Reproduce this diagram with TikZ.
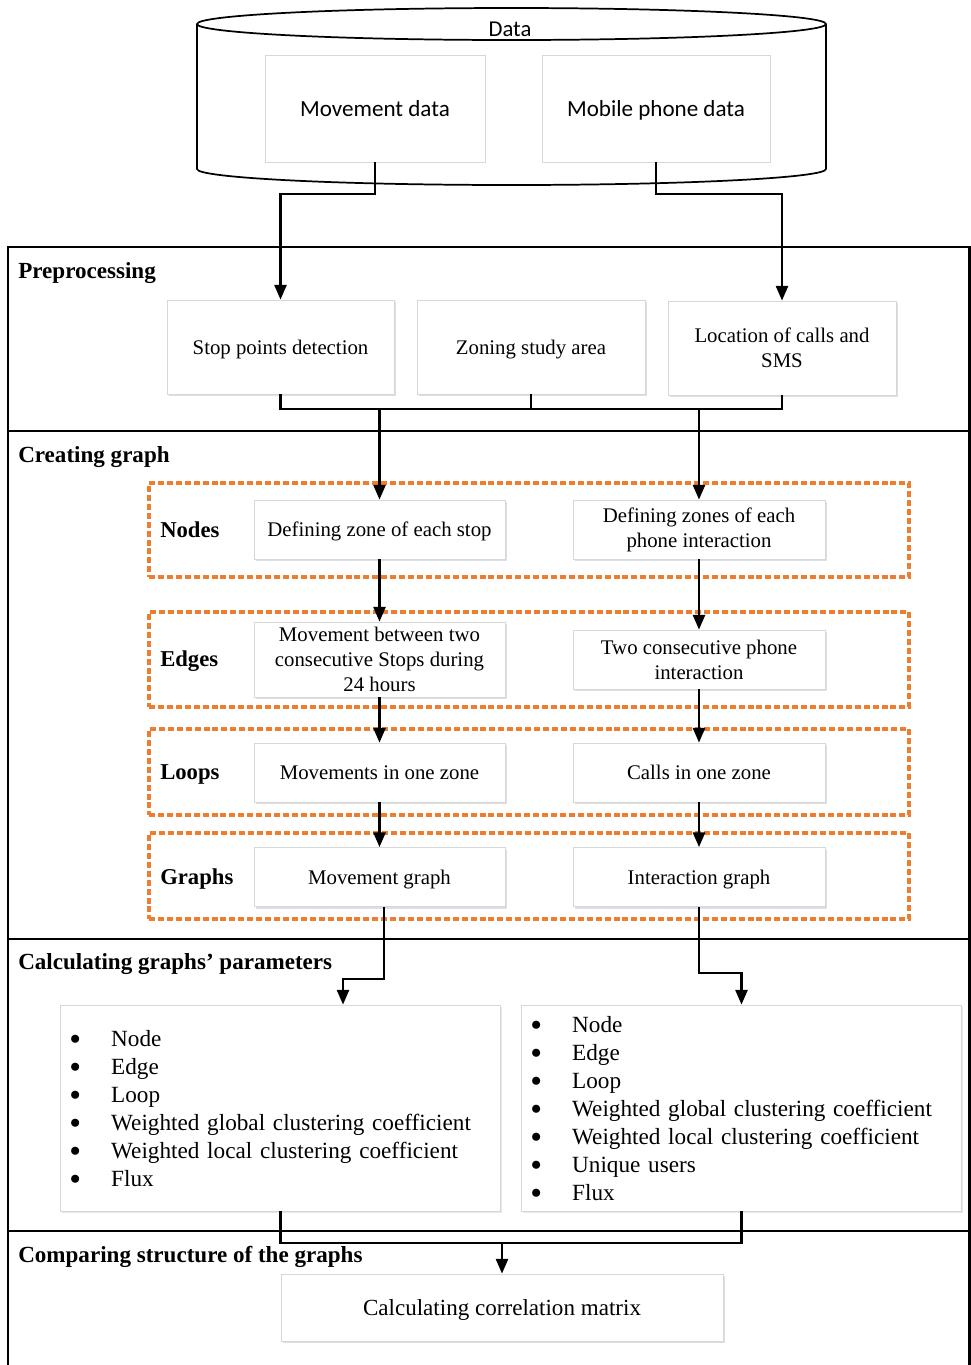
\documentclass[tikz,border=0pt]{standalone}
\usepackage{fontspec}
\usepackage{graphicx}
\setmainfont{Liberation Serif}
\newfontfamily\calfont{Carlito}
\usetikzlibrary{arrows.meta,shadows,calc}
\definecolor{boxgray}{RGB}{215,215,215}
\definecolor{dashorange}{RGB}{237,125,49}
\definecolor{shadowcol}{RGB}{205,210,225}
\newcommand\blt{\makebox[30pt][l]{\hspace{-1.2pt}\raisebox{1.3pt}{\fontsize{14}{10}\selectfont ●}}}
\newcommand\liftlist[1]{\raisebox{0pt}[\dimexpr\height+4.5pt\relax][\depth]{#1}}
\begin{document}
\begin{tikzpicture}[x=0.75pt,y=-0.75pt,
  box/.style={draw=boxgray, line width=0.6pt, fill=white, inner sep=2pt, align=center,
    font=\fontsize{15.6}{18.75}\selectfont,
    drop shadow={shadow xshift=1.2pt, shadow yshift=-1.5pt, fill=shadowcol, opacity=0.7}},
  sl/.style={text height=10.8pt, text depth=0pt},
  databox/.style={draw=boxgray, line width=0.6pt, fill=white, minimum width=165pt, minimum height=80.25pt,
    text height=11.5pt, text depth=0pt,
    font=\calfont\fontsize{17.3}{20}\selectfont},
  listbox/.style={draw=boxgray, line width=0.6pt, fill=white, inner xsep=8.25pt, inner ysep=0pt,
    text width=314pt, minimum height=154.5pt,
    font=\fontsize{17.4}{21}\selectfont,
    drop shadow={shadow xshift=1.2pt, shadow yshift=-1.5pt, fill=shadowcol, opacity=0.5}},
  sect/.style={anchor=west, inner sep=0pt, text height=11.8pt, text depth=0pt,
    font=\bfseries\fontsize{17.3}{20}\selectfont},
  lab/.style={anchor=west, inner sep=0pt, text height=11.6pt, text depth=0pt,
    font=\bfseries\fontsize{17}{20}\selectfont},
  dbox/.style={draw=dashorange, line width=2.6pt, dash pattern=on 4.5pt off 2.2pt, minimum width=570pt},
  conn/.style={line width=1.8pt},
  arr/.style={line width=1.8pt, -{Triangle[length=11pt,width=9pt]}},
  frame/.style={line width=1.8pt}
]
\useasboundingbox (0,0) rectangle (971,1365);

% ---- Data cylinder ----
\draw[line width=1.3pt] (197,24) -- (197,169) arc[start angle=180, end angle=0, x radius=314.5, y radius=16] -- (826,24);
\draw[line width=1.3pt] (511.5,24) ellipse [x radius=314.5, y radius=16];
\node[font=\calfont\fontsize{17}{20}\selectfont, inner sep=0pt] (data) at (510,29) {Data};
\node[databox] (mv) at (375,108.5) {Movement data};
\node[databox, minimum width=171pt] (mp) at (656,108.5) {Mobile phone data};

% ---- Section frames ----
\draw[frame] (8,1375) -- (8,247) -- (969.5,247) -- (969.5,1375);
\draw[frame] (8,431) -- (971,431);
\draw[frame] (8,939) -- (971,939);
\draw[frame] (8,1231) -- (971,1231);

\node[sect] (s1) at (18,271) {Preprocessing};
\node[sect] (s2) at (18,455) {Creating graph};
\node[sect] (s3) at (18,962) {Calculating graphs’ parameters};
\node[sect] (s4) at (18,1255) {Comparing structure of the graphs};

% ---- Preprocessing ----
\node[box, sl, minimum width=170.25pt, minimum height=70.5pt] (stop) at (280.5,347) {Stop points detection};
\node[box, sl, minimum width=171pt, minimum height=70.5pt] (zone) at (531,347) {Zoning study area};
\node[box, minimum width=171pt, minimum height=70.5pt] (loc) at (782,348) {Location of calls and\\SMS};

% ---- Creating graph: dashed groups ----
\node[dbox, minimum height=70.5pt] (gn) at (529,530) {};
\node[dbox, minimum height=71.25pt] (ge) at (529,659.5) {};
\node[dbox, minimum height=64.5pt] (gl) at (529,772) {};
\node[dbox, minimum height=64.5pt] (gg) at (529,876) {};

\node[lab] (ln) at (160,530) {Nodes};
\node[lab] (le) at (160,659) {Edges};
\node[lab] (ll) at (160,772) {Loops};
\node[lab] (lg) at (160,877) {Graphs};

\tikzset{lbox/.style={box, minimum width=188.25pt, minimum height=44.25pt},
         rbox/.style={box, minimum width=189pt, minimum height=44.25pt}}
\node[lbox, sl] (n1) at (379.5,529.5) {Defining zone of each stop};
\node[rbox] (n2) at (699,529.5) {Defining zones of each\\phone interaction};
\node[lbox, minimum height=56.25pt] (e1) at (379.5,659.5) {Movement between two\\consecutive Stops during\\24 hours};
\node[rbox] (e2) at (699,659.5) {Two consecutive phone\\interaction};
\node[lbox, sl] (l1) at (379.5,772.5) {Movements in one zone};
\node[rbox, sl] (l2) at (699,772.5) {Calls in one zone};
\node[lbox, sl] (g1) at (379.5,877) {Movement graph};
\node[rbox, sl] (g2) at (699,877) {Interaction graph};

% ---- Parameters ----
\node[listbox] (p1) at (280.5,1108) {\liftlist{\begin{tabular}{@{}l@{}l@{}}
\blt & Node\\
\blt & Edge\\
\blt & Loop\\
\blt & Weighted global clustering coefficient\\
\blt & Weighted local clustering coefficient\\
\blt & Flux
\end{tabular}}};
\node[listbox] (p2) at (741.5,1108) {\liftlist{\begin{tabular}{@{}l@{}l@{}}
\blt & Node\\
\blt & Edge\\
\blt & Loop\\
\blt & Weighted global clustering coefficient\\
\blt & Weighted local clustering coefficient\\
\blt & Unique users\\
\blt & Flux
\end{tabular}}};

% ---- Comparing ----
\node[box, text height=11.8pt, text depth=0pt, minimum width=331.5pt, minimum height=50.25pt, font=\fontsize{17.3}{20}\selectfont] (corr) at (502,1307.5) {Calculating correlation matrix};

% ---- Connectors ----
\draw[arr] (mv.south) -- (mv.south |- 0,194) -| (stop.north);
\draw[arr] (mp.south) -- (mp.south |- 0,194) -| (loc.north);

\coordinate (j1) at (n1.north |- 0,409);
\coordinate (j2) at (n2.north |- 0,409);
\draw[conn] (stop.south) -- (stop.south |- 0,409) -- (loc.south |- 0,409) -- (loc.south);
\draw[conn] (zone.south) -- (zone.south |- 0,409);
\draw[arr] (j1) -- (n1.north);
\draw[arr] (j2) -- (n2.north);

\draw[arr] (n1.south) -- (e1.north);
\draw[arr] (n2.south) -- (e2.north);
\draw[arr] (e1.south) -- (l1.north);
\draw[arr] (e2.south) -- (l2.north);
\draw[arr] (l1.south) -- (g1.north);
\draw[arr] (l2.south) -- (g2.north);

\coordinate (t1) at ($(p1.north)+(62.5,0)$);
\draw[arr] ($(g1.south)+(4.5,0)$) |- (t1 |- 0,979) -- (t1);
\draw[arr] (g2.south) |- (p2.north |- 0,973) -- (p2.north);

\coordinate (k) at (corr.north |- 0,1243);
\draw[conn] (p1.south) -- (p1.south |- 0,1243) -- (p2.south |- 0,1243) -- (p2.south);
\draw[arr] (k) -- (corr.north);
\end{tikzpicture}
\end{document}
